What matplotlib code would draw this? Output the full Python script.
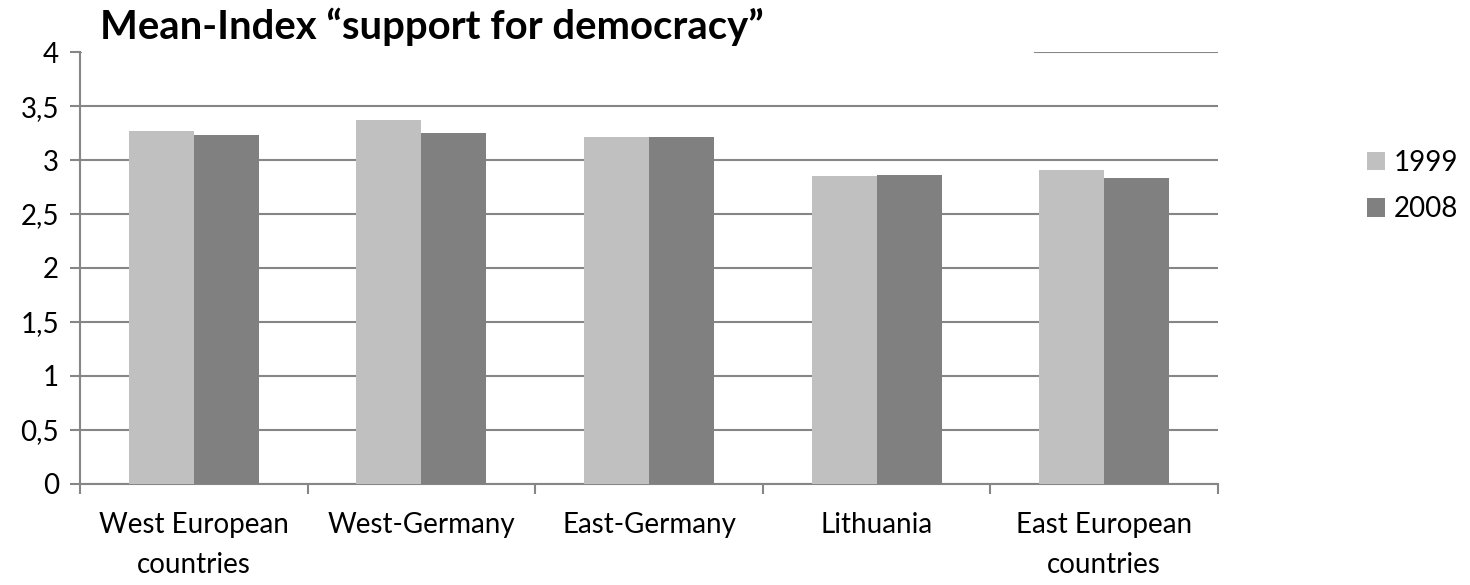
# Grafico de barras agrupadas: indice medio de apoio a democracia, 1999 x 2008

import numpy as np
import matplotlib
matplotlib.use("Agg")
import matplotlib.pyplot as plt
from matplotlib.patches import Rectangle
from matplotlib.ticker import FuncFormatter, FixedLocator

regioes = ["West European\ncountries", "West-Germany", "East-Germany",
           "Lithuania", "East European\ncountries"]
anos = ["1999", "2008"]
valores_1999 = [3.27, 3.37, 3.21, 2.85, 2.91]
valores_2008 = [3.23, 3.25, 3.21, 2.86, 2.83]
yticks = [0, 0.5, 1, 1.5, 2, 2.5, 3, 3.5, 4]

cores = ["#C0C0C0", "#808080"]
cinza = "#868686"

plt.rcParams["font.family"] = ["Lato", "DejaVu Sans"]

fig = plt.figure(figsize=(14.7, 5.85), dpi=100)
ax = fig.add_axes([0.0544, 0.1735, 0.7742, 0.7371])

x = np.arange(len(regioes))
larg = 0.286
ax.bar(x - larg / 2, valores_1999, width=larg, color=cores[0], label=anos[0], zorder=3)
ax.bar(x + larg / 2, valores_2008, width=larg, color=cores[1], label=anos[1], zorder=3)

ax.set_xlim(-0.5, len(regioes) - 0.5)
ax.set_ylim(0, 4)

# grade horizontal e eixos no estilo do excel
ax.yaxis.set_major_locator(FixedLocator(yticks))
ax.yaxis.set_major_formatter(FuncFormatter(lambda v, p: f"{v:g}".replace(".", ",")))
ax.grid(axis="y", color=cinza, linewidth=1.5, zorder=1)
ax.grid(axis="x", visible=False)
for lado in ["top", "right"]:
    ax.spines[lado].set_visible(False)
for lado in ["left", "bottom"]:
    ax.spines[lado].set_color(cinza)
    ax.spines[lado].set_linewidth(1.5)

ax.set_xticks(x)
ax.set_xticklabels(regioes, fontsize=20, linespacing=1.65)
ax.set_xticks(np.arange(len(regioes) + 1) - 0.5, minor=True)
ax.tick_params(axis="x", which="major", length=0, pad=20.5)
ax.tick_params(axis="x", which="minor", length=7, width=1.5, color=cinza, direction="out")
ax.tick_params(axis="y", length=7, width=1.5, color=cinza, pad=8, labelsize=20)

# caixa do titulo tapa a linha de 4
fig.patches.append(Rectangle((0.0556, 0.898), 0.648, 0.102, transform=fig.transFigure,
                             facecolor="white", edgecolor="none", zorder=5))
fig.text(0.068, 0.933, "Mean-Index \u201csupport for democracy\u201d", fontsize=28.8,
         fontweight="bold", ha="left", va="baseline", zorder=6)

leg = ax.legend(loc="center left", bbox_to_anchor=(0.93, 0.682),
                bbox_transform=fig.transFigure, frameon=False,
                fontsize=20, handlelength=0.65, handleheight=0.65,
                handletextpad=0.3, labelspacing=0.75, borderpad=0, borderaxespad=0)

fig.savefig("out.png", dpi=100)
plt.close(fig)
